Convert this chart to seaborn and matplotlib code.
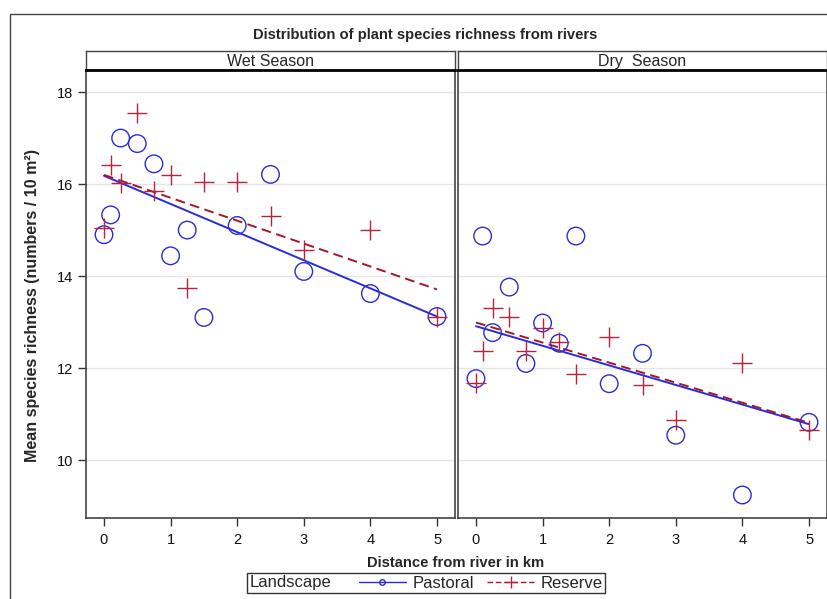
import numpy as np
import pandas as pd
import matplotlib
matplotlib.use('Agg')
import matplotlib.pyplot as plt
import seaborn as sns
from matplotlib.lines import Line2D
from matplotlib.patches import Rectangle
from matplotlib.offsetbox import HPacker

# data
distance = [0, 0.1, 0.25, 0.5, 0.75, 1, 1.25, 1.5, 2, 2.5, 3, 4, 5]
wet_pastoral = [14.9, 15.33, 17.0, 16.88, 16.44, 14.44, 15.0, 13.1, 15.1, 16.21, 14.1, 13.62, 13.12]
wet_reserve = [15.04, 16.42, 16.02, 17.55, 15.85, 16.2, 13.74, 16.04, 16.04, 15.3, 14.56, 15.0, 13.12]
dry_pastoral = [11.77, 14.87, 12.77, 13.76, 12.1, 12.98, 12.54, 14.87, 11.66, 12.32, 10.54, 9.24, 10.82]
dry_reserve = [11.68, 12.37, 13.3, 13.1, 12.37, 12.86, 12.56, 11.87, 12.68, 11.63, 10.86, 12.12, 10.66]

# fitted trend lines as drawn in the reference (value at 0 km and at 5 km)
fit_distance = [0, 5]
wet_pastoral_fit = [16.18, 13.12]
wet_reserve_fit = [16.2, 13.71]
dry_pastoral_fit = [12.91, 10.78]
dry_reserve_fit = [12.99, 10.81]

seasons = ['Wet', 'Dry']
strip_labels = ['Wet Season', 'Dry  Season']
y_ticks = [10, 12, 14, 16, 18]
x_ticks = [0, 1, 2, 3, 4, 5]

rows = []
for season, past, res in [('Wet', wet_pastoral, wet_reserve), ('Dry', dry_pastoral, dry_reserve)]:
    for d, p, r in zip(distance, past, res):
        rows.append((season, 'Pastoral', d, p))
        rows.append((season, 'Reserve', d, r))
df = pd.DataFrame(rows, columns=['season', 'landscape', 'distance', 'richness'])

fit_rows = []
for season, past, res in [('Wet', wet_pastoral_fit, wet_reserve_fit), ('Dry', dry_pastoral_fit, dry_reserve_fit)]:
    for d, p, r in zip(fit_distance, past, res):
        fit_rows.append((season, 'Pastoral', d, p))
        fit_rows.append((season, 'Reserve', d, r))
fits = pd.DataFrame(fit_rows, columns=['season', 'landscape', 'distance', 'richness'])

blue = '#2B2BD9'
red = '#B8223B'
red_line = '#A3162E'

sns.set_theme(style='white')
plt.rcParams['font.family'] = ['Liberation Sans', 'DejaVu Sans']

W, H = 828, 599
fig = plt.figure(figsize=(W / 100, H / 100), dpi=100)


def box(x0, y0, x1, y1):
    return [x0 / W, 1 - y1 / H, (x1 - x0) / W, (y1 - y0) / H]


# outer frame
fig.add_artist(Rectangle((10 / W, -0.1), 1.2, 1 - 14 / H + 0.1, transform=fig.transFigure,
                         fill=False, ec='#444444', lw=1))

panels = [(86, 455), (458, 827)]
for i, (season, label, (x0, x1)) in enumerate(zip(seasons, strip_labels, panels)):
    ax = fig.add_axes(box(x0, 70, x1, 518))
    sub = df[df.season == season]
    fsub = fits[fits.season == season]
    past = sub[sub.landscape == 'Pastoral']
    res = sub[sub.landscape == 'Reserve']
    sns.lineplot(data=fsub[fsub.landscape == 'Pastoral'], x='distance', y='richness',
                 ax=ax, color=blue, lw=1.4)
    sns.lineplot(data=fsub[fsub.landscape == 'Reserve'], x='distance', y='richness',
                 ax=ax, color=red_line, lw=1.4, ls=(0, (5, 2.8)))
    sns.scatterplot(data=past, x='distance', y='richness', ax=ax, marker='o', s=160,
                    fc='none', ec=blue, linewidth=1, zorder=3)
    sns.scatterplot(data=res, x='distance', y='richness', ax=ax, marker='+', s=190,
                    color=red, linewidth=1, zorder=3)
    ax.set_xlim(-0.27, 5.27)
    ax.set_ylim(8.74, 18.48)
    ax.set_xticks(x_ticks)
    ax.set_yticks(y_ticks)
    ax.set_xlabel('')
    ax.set_ylabel('')
    ax.yaxis.grid(True, color='#e6e6e6', lw=1)
    ax.set_axisbelow(True)
    for s in ax.spines.values():
        s.set_color('#444444')
        s.set_linewidth(1.2)
    ax.tick_params(axis='x', bottom=True, direction='out', length=6, width=1,
                   color='#333333', labelsize=10.5, pad=5, labelcolor='#111111')
    if i == 0:
        ax.tick_params(axis='y', left=True, direction='out', length=6, width=1,
                       color='#333333', labelsize=10.5, pad=3, labelcolor='#111111')
    else:
        ax.tick_params(axis='y', left=False, labelleft=False)

    # strip header
    sax = fig.add_axes(box(x0, 51, x1, 70))
    sax.set_xticks([])
    sax.set_yticks([])
    for s in sax.spines.values():
        s.set_color('#444444')
        s.set_linewidth(1)
    sax.spines['bottom'].set_color('black')
    sax.spines['bottom'].set_linewidth(2)
    sax.text(0.5, 0.45, label, ha='center', va='center', fontsize=11.5,
             transform=sax.transAxes)

fig.text(425 / W, 1 - 35 / H, 'Distribution of plant species richness from rivers',
         ha='center', va='center', fontsize=10.6, fontweight='bold')
fig.text(456 / W, 1 - 563 / H, 'Distance from river in km',
         ha='center', va='center', fontsize=10.6, fontweight='bold')
fig.text(33 / W, 1 - 305 / H, 'Mean species richness (numbers / 10 m²)',
         ha='center', va='center', fontsize=11.5, fontweight='bold', rotation=90)

h_p = Line2D([], [], color=blue, lw=1, marker='o', ms=4, mfc='none', mec=blue)
h_r = Line2D([], [], color=red_line, lw=1, ls=(0, (4, 2)), marker='+', ms=8, mec=red)
leg = fig.legend([h_p, h_r], ['Pastoral', 'Reserve'], title='Landscape', ncol=2,
                 loc='center', bbox_to_anchor=(426 / W, 1 - 583 / H), frameon=True,
                 fancybox=False, edgecolor='black', fontsize=12, title_fontsize=12,
                 handlelength=2.8, handletextpad=0.4, columnspacing=0.8, borderpad=0.15)
leg.get_frame().set_linewidth(1.0)
leg._legend_box.__class__ = HPacker
leg._legend_box.sep = 20
leg._legend_box.align = 'baseline'

fig.savefig('out.png', dpi=100)
